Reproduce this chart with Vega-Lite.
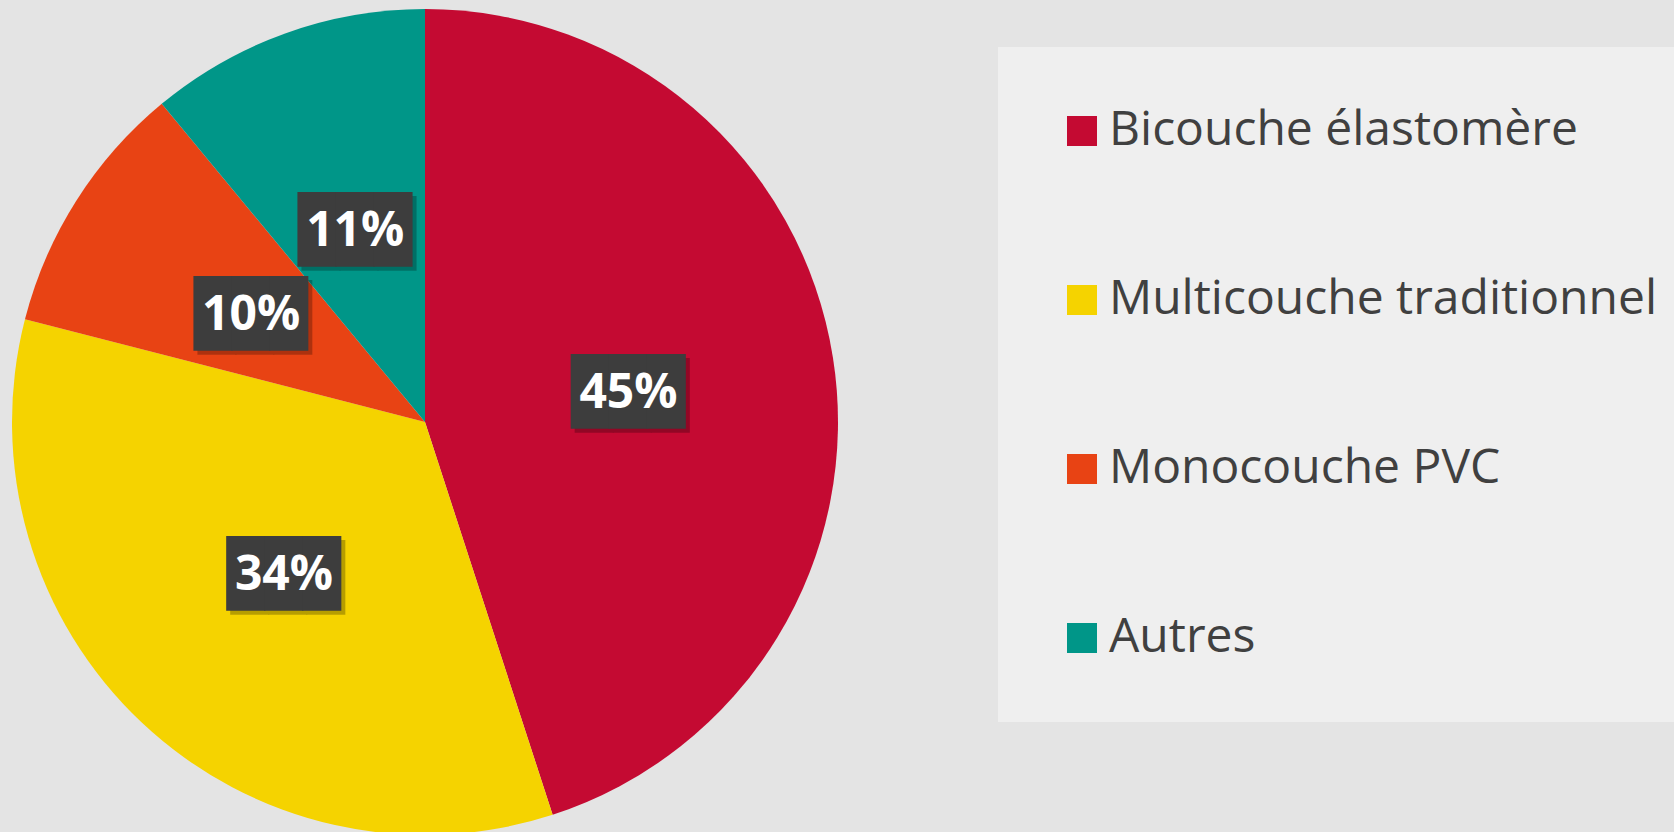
{
  "$schema": "https://vega.github.io/schema/vega-lite/v6.json",
  "autosize": {"type": "none"},
  "width": 850,
  "height": 820,
  "padding": {"left": 0, "top": 12, "right": 824, "bottom": 0},
  "background": "#e4e4e4",
  "config": {"view": {"stroke": null}},
  "data": {
    "values": [
      {"cat": "Bicouche élastomère", "value": 45, "label": "45%", "o": 1},
      {"cat": "Multicouche traditionnel", "value": 34, "label": "34%", "o": 2},
      {"cat": "Monocouche PVC", "value": 10, "label": "10%", "o": 3},
      {"cat": "Autres", "value": 11, "label": "11%", "o": 4}
    ]
  },
  "encoding": {
    "theta": {"field": "value", "type": "quantitative", "stack": true},
    "order": {"field": "o", "type": "quantitative"}
  },
  "layer": [
    {
      "mark": {"type": "arc", "radius": 413, "stroke": null},
      "encoding": {
        "color": {
          "field": "cat",
          "type": "nominal",
          "sort": ["Bicouche élastomère", "Multicouche traditionnel", "Monocouche PVC", "Autres"],
          "scale": {
            "domain": ["Bicouche élastomère", "Multicouche traditionnel", "Monocouche PVC", "Autres"],
            "range": ["#C40A32", "#F5D300", "#E84314", "#009688"]
          },
          "legend": {
            "title": null,
            "orient": "none",
            "legendX": 998,
            "legendY": 35,
            "padding": 60,
            "symbolOffset": 0,
            "symbolType": "square",
            "symbolSize": 900,
            "symbolStrokeWidth": 0,
            "symbolOpacity": 1,
            "labelFont": "Open Sans",
            "labelFontSize": 48,
            "labelColor": "#404040",
            "labelOffset": 3,
            "labelLimit": 1000,
            "rowPadding": 121,
            "fillColor": "#efefef"
          }
        }
      }
    },
    {
      "mark": {"type": "text", "radius": 206, "text": "███", "font": "DejaVu Sans Mono", "fontSize": 63, "color": "#000000", "opacity": 0.25, "dx": 4, "dy": 8, "baseline": "middle"}
    },
    {
      "mark": {"type": "text", "radius": 206, "text": "███", "font": "DejaVu Sans Mono", "fontSize": 63, "color": "#3d3d3d", "dy": 4, "baseline": "middle"}
    },
    {
      "mark": {"type": "text", "radius": 206, "font": "Open Sans", "fontWeight": "bold", "fontSize": 48, "color": "#ffffff", "dy": 4, "baseline": "middle"},
      "encoding": {"text": {"field": "label", "type": "nominal"}}
    }
  ]
}
